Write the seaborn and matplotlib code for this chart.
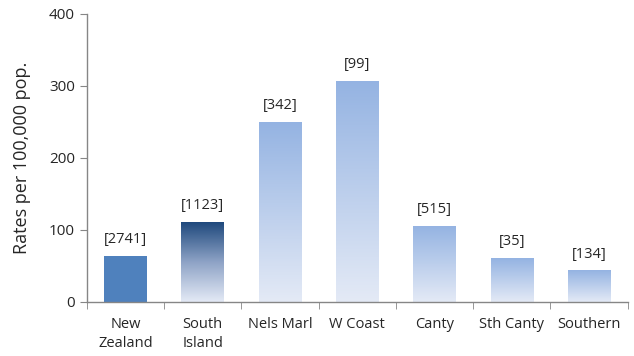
import numpy as np
import pandas as pd
import matplotlib
matplotlib.use("Agg")
import matplotlib.pyplot as plt
from matplotlib.colors import LinearSegmentedColormap
import seaborn as sns

regions = ["New\nZealand", "South\nIsland", "Nels Marl", "W Coast", "Canty", "Sth Canty", "Southern"]
rates = [64, 111, 250, 307, 106, 61, 44]
counts = ["[2741]", "[1123]", "[342]", "[99]", "[515]", "[35]", "[134]"]
y_ticks = [0, 100, 200, 300, 400]

sns.set_style("white")
plt.rcParams["font.family"] = ["Open Sans", "DejaVu Sans"]

df = pd.DataFrame({"region": regions, "rate": rates})

fig = plt.figure(figsize=(6.34, 3.56), dpi=100)
ax = fig.add_axes([0.137, 0.152, 0.853, 0.809])

sns.barplot(data=df, x="region", y="rate", ax=ax, width=0.55,
            color="#4F81BD", saturation=1, edgecolor="none")

# gradient fills: light blue bars for districts, navy for South Island
light = LinearSegmentedColormap.from_list("light", ["#E4EAF6", "#94B3E2"])
navy = LinearSegmentedColormap.from_list("navy", ["#E4EAF6", "#8EA3C6", "#1F497D"])
grad = np.linspace(0, 1, 256).reshape(-1, 1)
for i, patch in enumerate(ax.patches):
    if i == 0:
        continue
    x0, y0 = patch.get_x(), patch.get_y()
    w, h = patch.get_width(), patch.get_height()
    cmap = navy if i == 1 else light
    im = ax.imshow(grad, cmap=cmap, origin="lower", aspect="auto",
                   extent=[x0, x0 + w, y0, y0 + h], zorder=patch.get_zorder())
    im.set_clip_path(patch)
    patch.set_facecolor("none")

for i, (r, c) in enumerate(zip(rates, counts)):
    ax.text(i, r + 12, c, ha="center", va="bottom", fontsize=10.5, color="#262626")

ax.set_xlim(-0.5, len(regions) - 0.5)
ax.set_ylim(0, 400)
ax.set_yticks(y_ticks)
ax.set_ylabel("Rates per 100,000 pop.", fontsize=13, color="#262626", labelpad=13)
ax.set_xlabel("")

for s in ["top", "right"]:
    ax.spines[s].set_visible(False)
for s in ["left", "bottom"]:
    ax.spines[s].set_color("#868686")
    ax.spines[s].set_linewidth(1.0)

ax.tick_params(axis="y", which="major", direction="out", length=5, color="#868686",
               labelsize=11, labelcolor="#262626", left=True)
ax.tick_params(axis="x", which="major", length=0, labelsize=10.5, labelcolor="#262626", pad=11)
for lbl in ax.get_xticklabels():
    lbl.set_linespacing(1.35)
ax.set_xticks(np.arange(-0.5, len(regions)), minor=True)
ax.tick_params(axis="x", which="minor", direction="out", length=5, color="#868686", bottom=True)
ax.grid(False)

fig.savefig("out.png", dpi=100)
